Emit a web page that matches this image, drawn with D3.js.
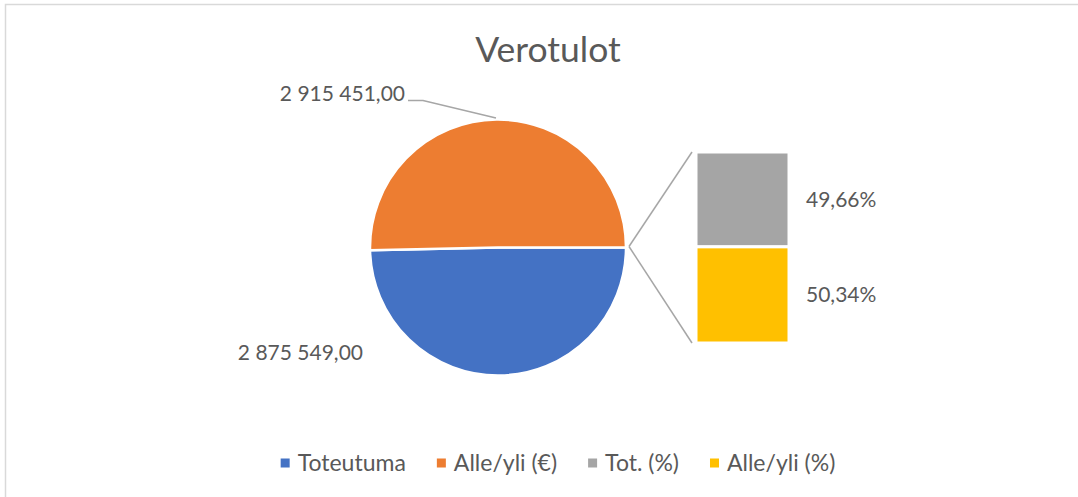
<!DOCTYPE html>
<html><head><meta charset="utf-8">
<script src="https://cdn.jsdelivr.net/npm/d3@7"></script>
<style>body{margin:0;background:#fff}svg{display:block}text{font-family:Lato,"Open Sans",sans-serif;fill:#595959}</style>
</head><body><div id="chart"></div>
<script>
const title = "Verotulot";
const categories = ["Toteutuma", "Alle/yli (€)", "Tot. (%)", "Alle/yli (%)"];
const pieValues = [2875549.00, 2915451.00];      // Toteutuma, Alle/yli (€)
const barValues = [49.66, 50.34];                // Tot. (%), Alle/yli (%)
const colors = ["#4472C4", "#ED7D31", "#A5A5A5", "#FFC000"];

const W = 1078, H = 497;
const svg = d3.select("#chart").append("svg").attr("width", W).attr("height", H);
svg.append("rect").attr("x", 5.5).attr("y", 4.5).attr("width", W + 10).attr("height", H + 10)
  .attr("fill", "#fff").attr("stroke", "#d9d9d9").attr("stroke-width", 1.5);

svg.append("text").attr("x", 548).attr("y", 62).attr("text-anchor", "middle")
  .style("font-size", "35.5px").text(title);

const loc = d3.formatLocale({decimal: ",", thousands: "\u00a0", grouping: [3], currency: ["", "€"]});
const fmtNum = loc.format(",.2f");
const fmtPct = v => loc.format(".2f")(v) + "%";

// pie (with the combined "other" slice pointing to the bar)
const cx = 498, cy = 247.5, r = 128;
const otherVal = d3.sum(barValues);
const pieData = [{v: otherVal, c: "#A5A5A5", other: true},
                 {v: pieValues[0], c: colors[0], i: 0},
                 {v: pieValues[1], c: colors[1], i: 1}];
const total = d3.sum(pieData, d => d.v);
const otherAng = otherVal / total * 2 * Math.PI;
const pie = d3.pie().sort(null).value(d => d.v)
  .startAngle(Math.PI / 2 - otherAng / 2).endAngle(Math.PI / 2 - otherAng / 2 + 2 * Math.PI);
const arcs = pie(pieData);
const arc = d3.arc().innerRadius(0).outerRadius(r);
const g = svg.append("g").attr("transform", `translate(${cx},${cy})`);
g.selectAll("path").data(arcs).join("path").attr("d", arc)
  .attr("fill", d => d.data.c).attr("stroke", "#fff").attr("stroke-width", 2.5);

// bar
const barX = 696, barW = 93, barTop = 152, barBot = 343;
const y = d3.scaleLinear().domain([0, otherVal]).range([barTop, barBot]);
let acc = 0;
const barData = barValues.map((v, k) => { const d = {v, y0: acc, y1: acc + v, c: colors[2 + k]}; acc += v; return d; });
svg.selectAll("rect.bar").data(barData).join("rect").attr("class", "bar")
  .attr("x", barX).attr("width", barW)
  .attr("y", d => y(d.y0)).attr("height", d => y(d.y1) - y(d.y0))
  .attr("fill", d => d.c).attr("stroke", "#fff").attr("stroke-width", 3);
svg.selectAll("text.pct").data(barData).join("text").attr("class", "pct")
  .attr("x", 806).attr("y", d => (y(d.y0) + y(d.y1)) / 2 + 7.5)
  .style("font-size", "21px").text(d => fmtPct(d.v));

// connector lines
const px = cx + r + 3;
[barTop, barBot].forEach(yy => {
  svg.append("line").attr("x1", px).attr("y1", cy - 1).attr("x2", barX - 4).attr("y2", yy)
    .attr("stroke", "#a6a6a6").attr("stroke-width", 1.5);
});

// data labels
svg.append("text").attr("x", 405).attr("y", 101).attr("text-anchor", "end")
  .style("font-size", "21px").text(fmtNum(pieValues[1]));
svg.append("polyline").attr("points", `408,100.5 423,100.5 ${cx - 2},${cy - r - 1.5}`)
  .attr("fill", "none").attr("stroke", "#a6a6a6").attr("stroke-width", 1.5);
svg.append("text").attr("x", 363).attr("y", 360).attr("text-anchor", "end")
  .style("font-size", "21px").text(fmtNum(pieValues[0]));

// legend
const lg = svg.append("g");
let lx = 0;
categories.forEach((c, k) => {
  const it = lg.append("g");
  it.append("rect").attr("x", 0).attr("y", -4.5).attr("width", 9).attr("height", 9).attr("fill", colors[k]);
  const t = it.append("text").attr("x", 17).attr("y", 8).style("font-size", "23px").text(c);
  const w = 17 + t.node().getComputedTextLength();
  it.attr("transform", `translate(${lx},0)`);
  lx += w + 31;
});
const lw = lx - 31;
lg.attr("transform", `translate(${558 - lw / 2},463)`);
</script></body></html>
